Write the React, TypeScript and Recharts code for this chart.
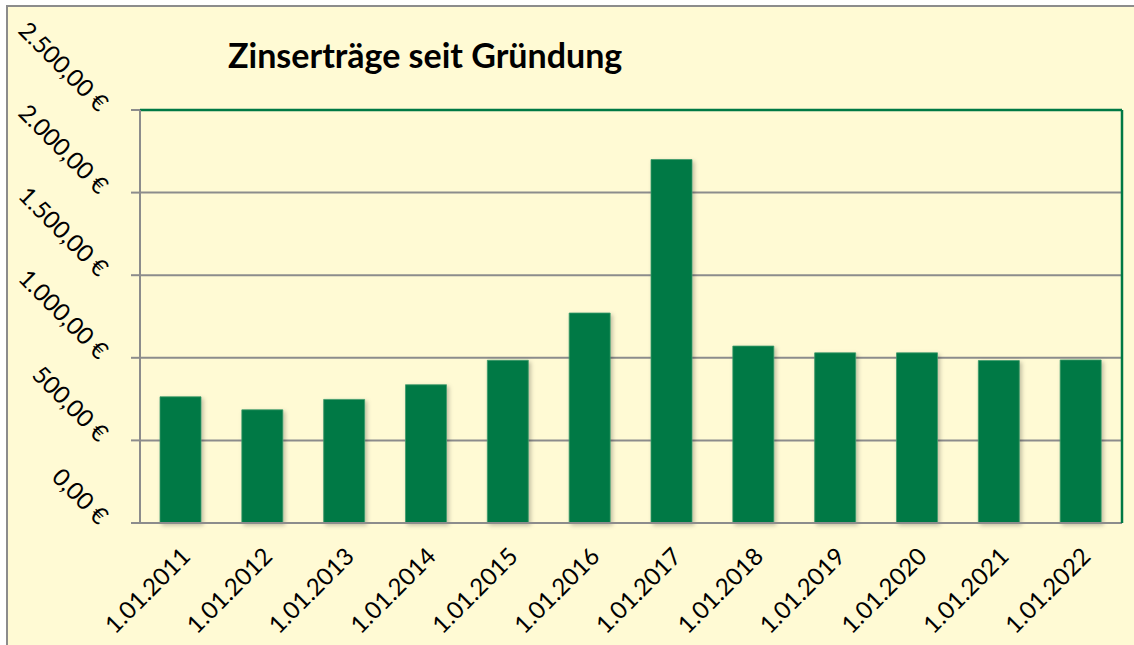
import React from "react";
import { Bar, BarChart, CartesianGrid, ReferenceLine, XAxis, YAxis } from "recharts";

const dates = [
  "1.01.2011",
  "1.01.2012",
  "1.01.2013",
  "1.01.2014",
  "1.01.2015",
  "1.01.2016",
  "1.01.2017",
  "1.01.2018",
  "1.01.2019",
  "1.01.2020",
  "1.01.2021",
  "1.01.2022",
];
const zinsen = [764, 685, 748, 837, 985, 1271, 2200, 1071, 1030, 1030, 983, 987];
const yTicks = [0, 500, 1000, 1500, 2000, 2500];

const data = dates.map((date, i) => ({ date, zinsen: zinsen[i] }));

const FONT = "Lato, 'Open Sans', sans-serif";
const GREEN = "#007944";
const GRID = "#8c8c8c";
const BG = "#fffad4";

function euro(value: number) {
  const [int, dec] = value.toFixed(2).split(".");
  const grouped = int.replace(/\B(?=(\d{3})+(?!\d))/g, ".");
  return `${grouped},${dec} €`;
}

function YTick({ x, y, payload }: any) {
  return (
    <text
      transform={`translate(${x - 31},${y + 3}) rotate(45)`}
      textAnchor="end"
      fontFamily={FONT}
      fontSize={24}
      fill="#000"
    >
      {euro(payload.value)}
    </text>
  );
}

function XTick({ x, y, payload }: any) {
  return (
    <text
      transform={`translate(${x + 11},${y + 27}) rotate(-45)`}
      textAnchor="end"
      fontFamily={FONT}
      fontSize={24}
      fill="#000"
    >
      {payload.value}
    </text>
  );
}

export default function App() {
  return (
    <div
      style={{
        position: "absolute",
        left: 6,
        top: 5,
        width: 1134,
        height: 645,
        background: BG,
        borderTop: `2px solid ${GRID}`,
        borderLeft: `2px solid ${GRID}`,
      }}
    >
      <div
        style={{
          position: "absolute",
          left: 220,
          top: 27,
          fontFamily: FONT,
          fontWeight: 700,
          fontSize: 34,
          color: "#000",
          whiteSpace: "nowrap",
        }}
      >
        Zinserträge seit Gründung
      </div>
      <BarChart
        width={1126}
        height={638}
        data={data}
        barSize={41}
        margin={{ top: 103, right: 11, left: 0, bottom: 0 }}
      >
        <defs>
          <filter id="bar-shadow" x="-20%" y="-5%" width="150%" height="115%">
            <feDropShadow dx="2" dy="2" stdDeviation="2" floodColor="#000" floodOpacity="0.25" />
          </filter>
        </defs>
        <CartesianGrid vertical={false} stroke={GRID} strokeWidth={2} />
        <XAxis
          dataKey="date"
          height={122}
          interval={0}
          tickLine={false}
          axisLine={{ stroke: GRID, strokeWidth: 2 }}
          tick={<XTick />}
        />
        <YAxis
          width={132}
          domain={[0, 2500]}
          ticks={yTicks}
          interval={0}
          tickSize={9}
          tickLine={{ stroke: GRID, strokeWidth: 2 }}
          axisLine={{ stroke: GRID, strokeWidth: 2 }}
          tick={<YTick />}
        />
        <YAxis
          yAxisId="right"
          orientation="right"
          width={1}
          domain={[0, 2500]}
          tick={false}
          tickLine={false}
          axisLine={{ stroke: GREEN, strokeWidth: 2.5 }}
        />
        <ReferenceLine y={2500} stroke={GREEN} strokeWidth={2.5} />
        <Bar
          dataKey="zinsen"
          fill={GREEN}
          stroke="#3d9a6c"
          strokeWidth={0.8}
          filter="url(#bar-shadow)"
          isAnimationActive={false}
        />
      </BarChart>
    </div>
  );
}
